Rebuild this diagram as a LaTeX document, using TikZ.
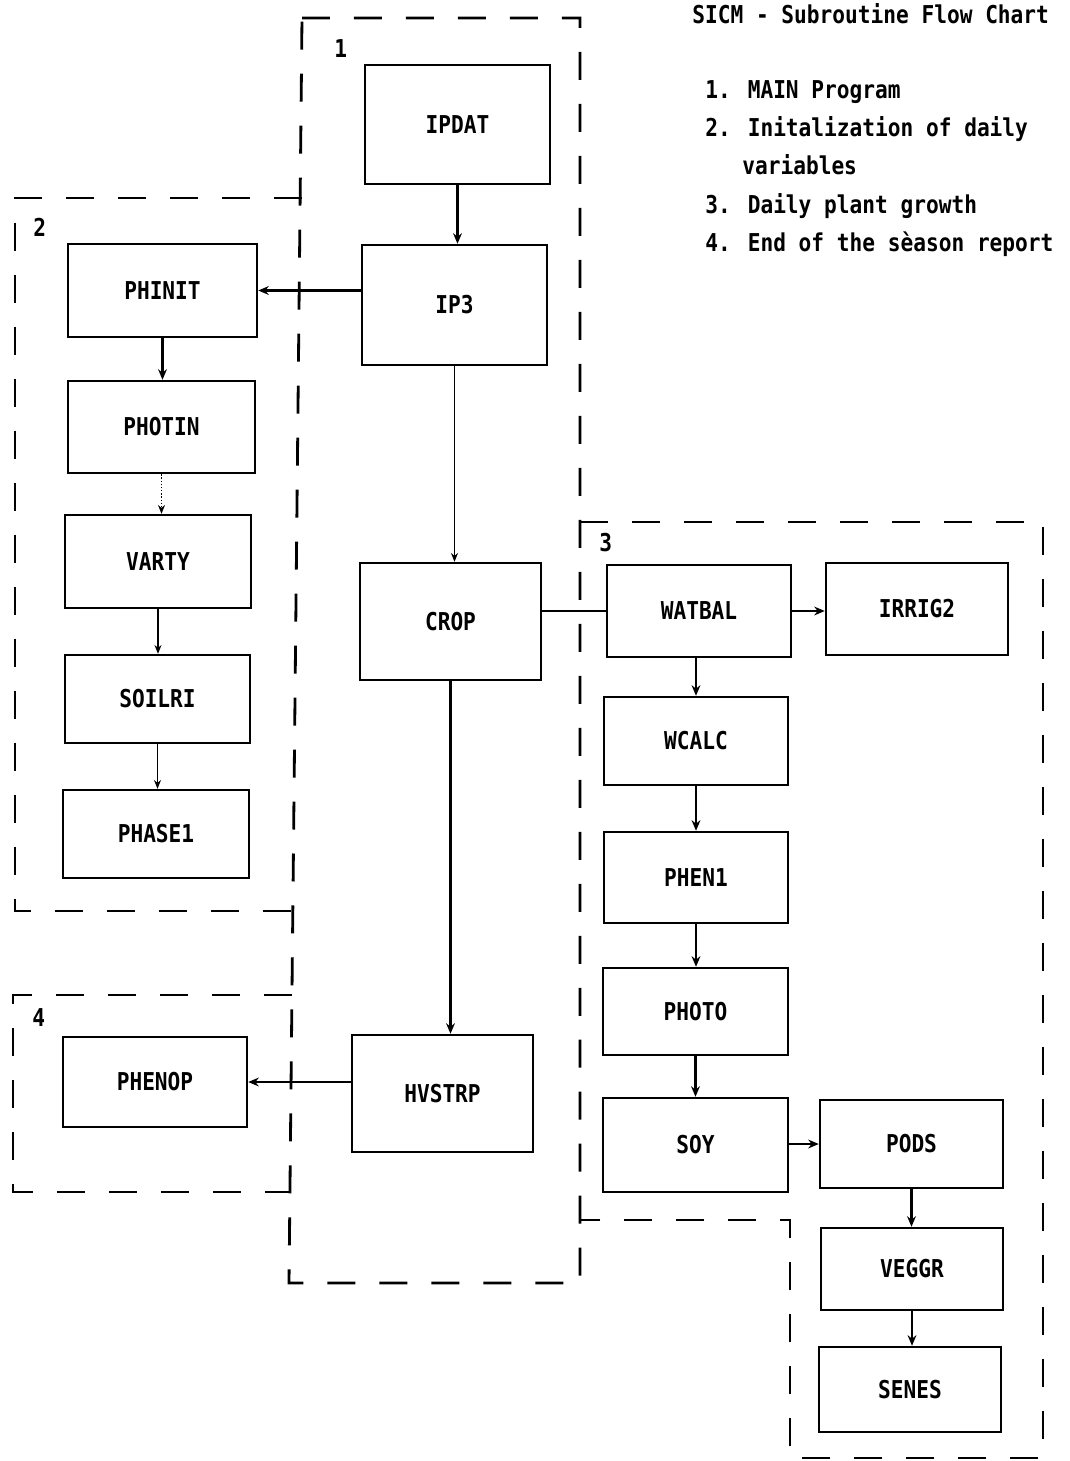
\documentclass[tikz,border=0pt]{standalone}
\usepackage{fontspec}
\newfontfamily\tw{DejaVu Sans Mono}[FakeStretch=0.86]
\usetikzlibrary{arrows.meta}
\begin{document}
\begin{tikzpicture}[x=0.02cm,y=-0.02cm,
  every node/.style={font=\tw\bfseries\fontsize{14}{17}\selectfont, inner sep=0pt},
  box/.style 2 args={draw, line width=1.4pt, minimum width=#1*0.02cm, minimum height=#2*0.02cm},
  arr/.style={line width=1.2pt, -{Stealth[length=6pt,width=5pt]}},
  thinarr/.style={line width=0.8pt, -{Stealth[length=5pt,width=4pt]}},
  plain/.style={line width=1.2pt},
  dsh/.style={line width=1.6pt, dash pattern=on 0.56cm off 0.48cm},
  lbl/.style={anchor=base west}]
\useasboundingbox (0,0) rectangle (1069,1461);
\fill[white] (0,0) rectangle (1069,1461);

% dashed region outlines
\draw[dsh] (302,18) -- (580,18) -- (580,1283) -- (289,1283) -- cycle;
\draw[dsh] (302,198) -- (15,198) -- (15,911) -- (293,911);
\draw[dsh] (292,995) -- (13,995) -- (13,1192) -- (290,1192);
\draw[dsh] (580,522) -- (1043,522) -- (1043,1458) -- (790,1458) -- (790,1220) -- (580,1220);

% region numbers
\node[lbl] (n1) at (334,57) {1};
\node[lbl] (n2) at (33,236) {2};
\node[lbl] (n3) at (599,551) {3};
\node[lbl] (n4) at (32,1026) {4};

% legend
\node[lbl] (title) at (692,23) {SICM - Subroutine Flow Chart};
\node[lbl] (l1) at (705,98) {1. MAIN Program};
\node[lbl] (l2) at (705,136) {2. Initalization of daily};
\node[lbl] (l2b) at (742,174) {variables};
\node[lbl] (l3) at (705,213) {3. Daily plant growth};
\node[lbl] (l4) at (705,251) {4. End of the sèason report};

% main column
\node[box={185}{119}] (ipdat) at (457.5,124.5) {IPDAT};
\node[box={185}{120}] (ip3) at (454.5,305) {IP3};
\node[box={181}{117}] (crop) at (450.5,621.5) {CROP};
\node[box={181}{117}] (hvstrp) at (442.5,1093.5) {HVSTRP};

% region 2
\node[box={189}{93}] (phinit) at (162.5,290.5) {PHINIT};
\node[box={187}{92}] (photin) at (161.5,427) {PHOTIN};
\node[box={186}{93}] (varty) at (158,561.5) {VARTY};
\node[box={185}{88}] (soilri) at (157.5,699) {SOILRI};
\node[box={186}{88}] (phase1) at (156,834) {PHASE1};

% region 4
\node[box={184}{90}] (phenop) at (155,1082) {PHENOP};

% region 3
\node[box={184}{92}] (watbal) at (699,611) {WATBAL};
\node[box={182}{92}] (irrig2) at (917,609) {IRRIG2};
\node[box={184}{88}] (wcalc) at (696,741) {WCALC};
\node[box={184}{91}] (phen1) at (696,877.5) {PHEN1};
\node[box={185}{87}] (photo) at (695.5,1011.5) {PHOTO};
\node[box={185}{94}] (soy) at (695.5,1145) {SOY};
\node[box={183}{88}] (pods) at (911.5,1144) {PODS};
\node[box={182}{82}] (veggr) at (912,1269) {VEGGR};
\node[box={182}{85}] (senes) at (910,1389.5) {SENES};

% connectors
\draw[arr] (ipdat.south) -- (ipdat.south |- ip3.north);
\draw[arr] (ip3.west |- phinit.east) -- (phinit.east);
\draw[thinarr] (ip3.south) -- (ip3.south |- crop.north);
\draw[arr] (crop.south) -- (crop.south |- hvstrp.north);
\draw[arr] (hvstrp.west |- phenop.east) -- (phenop.east);
\draw[plain] (crop.east |- watbal.west) -- (watbal.west);

\draw[arr] (phinit.south) -- (phinit.south |- photin.north);
\draw[thinarr, densely dotted] (photin.south) -- (photin.south |- varty.north);
\draw[thinarr] (varty.south) -- (varty.south |- soilri.north);
\draw[thinarr] (soilri.south) -- (soilri.south |- phase1.north);

\draw[arr] (watbal.east) -- (watbal.east -| irrig2.west);
\draw[arr] (wcalc.north |- watbal.south) -- (wcalc.north);
\draw[arr] (wcalc.south) -- (wcalc.south |- phen1.north);
\draw[arr] (phen1.south) -- (phen1.south |- photo.north);
\draw[arr] (photo.south) -- (photo.south |- soy.north);
\draw[arr] (soy.east |- pods.west) -- (pods.west);
\draw[arr] (pods.south) -- (pods.south |- veggr.north);
\draw[arr] (veggr.south) -- (veggr.south |- senes.north);
\end{tikzpicture}
\end{document}
